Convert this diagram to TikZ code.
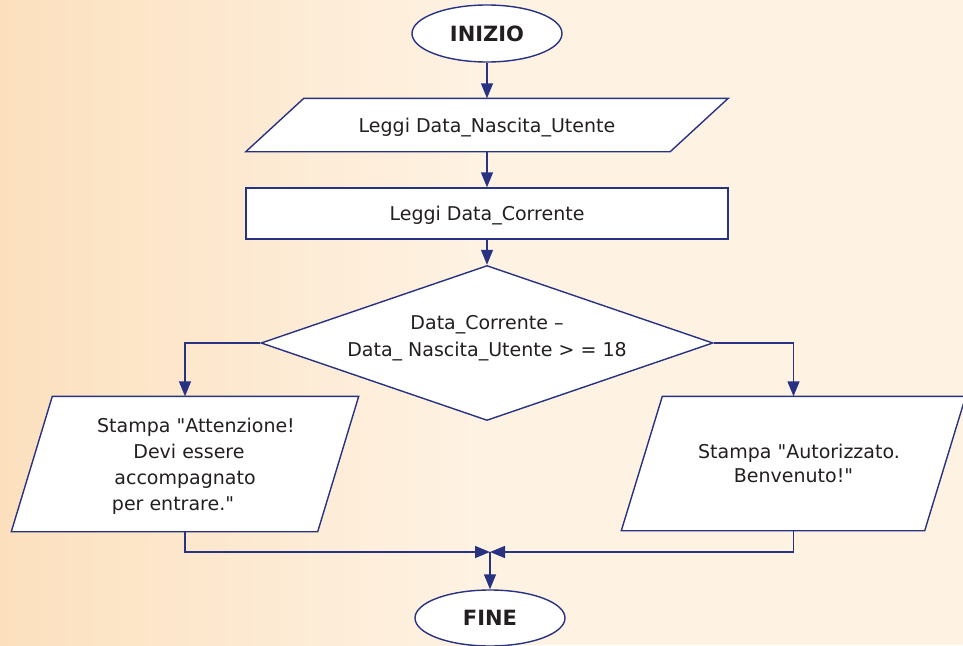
\documentclass[tikz,border=0pt]{standalone}
\usepackage{fontspec}
\setmainfont{DejaVu Sans}[Ligatures=TeXOff]
\usetikzlibrary{shapes.geometric,arrows.meta,calc,backgrounds}

\definecolor{flowline}{RGB}{40,50,130}
\definecolor{inktext}{RGB}{35,31,32}
\definecolor{peach}{RGB}{252,224,190}
\definecolor{cream}{RGB}{254,242,227}

\tikzset{
  base/.style={draw=flowline, line width=1.4pt, fill=white, text=inktext,
    font=\fontsize{19}{26}\selectfont, inner sep=0pt},
  terminal/.style={base, ellipse, font=\bfseries\fontsize{21}{26}\selectfont},
  process/.style={base, rectangle},
  iobox/.style={base, draw=none, fill=none, rectangle, align=center},
  textonly/.style={text=inktext, align=center, inner sep=0pt, font=\fontsize{19}{26}\selectfont},
  decision/.style={base, diamond},
  flow/.style={draw=flowline, line width=1.4pt, -{Triangle[length=15pt,width=12pt]}},
  ioframe/.style={draw=flowline, line width=1.4pt, fill=white, line join=miter},
}

% slanted input/output frame around a (frameless) node
\newcommand\drawslanted[2]{%
  \filldraw[ioframe] ($(#1.north west)+(#2,0)$) -- (#1.north east)
    -- ($(#1.south east)+(-#2,0)$) -- (#1.south west) -- cycle;}
% lower a line of text without changing its reported size
\newcommand\lowered[2]{\raisebox{-#1}[\height][\depth]{#2}}

\begin{document}
\begin{tikzpicture}[x=1pt, y=-1pt]
\useasboundingbox (0,0) rectangle (963,645);

% blocks
\node[terminal, minimum width=150, minimum height=57] (start) at (487,33.5) {INIZIO};
\node[iobox, minimum width=481, minimum height=52] (readbirth) at (487,125) {\lowered{3pt}{Leggi Data\_Nascita\_Utente}};
\node[process, minimum width=482, minimum height=51] (readnow) at (487,213.5) {\lowered{2pt}{Leggi Data\_Corrente}};
\node[decision, minimum width=452, minimum height=155] (dec) at (487,343) {};
\node[textonly, font=\fontsize{19}{27}\selectfont] (dectext) at ([yshift=5pt]dec.center)
  {Data\_Corrente –\\Data\_ Nascita\_Utente > = 18};
\node[iobox, minimum width=346, minimum height=134] (warn) at (185,464) {};
\node[textonly] (warntext) at ([yshift=-2.5pt]warn.center)
  {\hspace*{22pt}Stampa "Attenzione!\\\hspace*{8pt}Devi essere\\accompagnato\hspace*{8pt}\\per entrare."\hspace*{24pt}};
\node[iobox, minimum width=343, minimum height=133, font=\fontsize{19}{24}\selectfont] (ok) at (793.5,463.5)
  {\hspace*{11pt}Stampa "Autorizzato.\\Benvenuto!"};
\node[terminal, minimum width=150, minimum height=56] (stop) at (490,618) {FINE};
\coordinate (join) at (490,552);

% page background and slanted frames
\begin{pgfonlayer}{background}
  \shade[left color=peach, right color=cream] (0,0) rectangle (480,645);
  \fill[cream] (480,0) rectangle (963,645);
  \drawslanted{readbirth}{58}
  \drawslanted{warn}{41}
  \drawslanted{ok}{41}
\end{pgfonlayer}

% connectors
\draw[flow] (start) -- (readbirth);
\draw[flow] (readbirth) -- (readnow);
\draw[flow] (readnow) -- (dec);
\draw[flow] (dec.west) -| (warn.north);
\draw[flow] (dec.east) -| (ok.north);
\draw[flow] (warn.south) |- (join);
\draw[flow] (ok.south) |- (join);
\draw[flow] (join) -- (stop);
\end{tikzpicture}
\end{document}
